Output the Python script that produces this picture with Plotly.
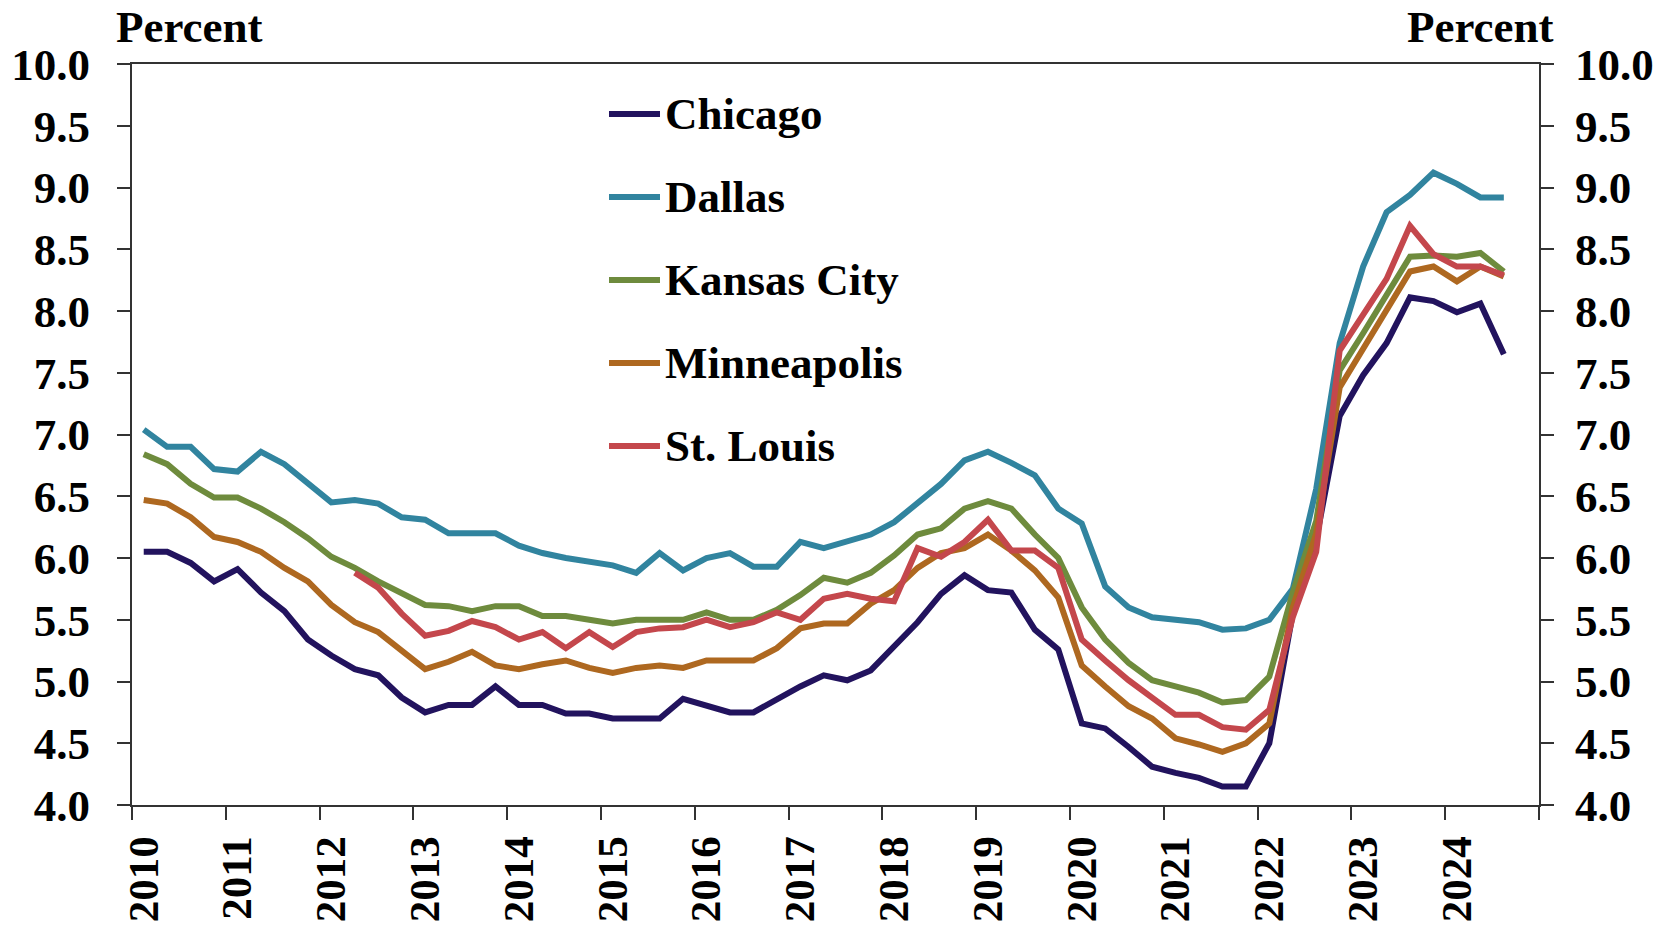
import plotly.graph_objects as go

# Quarterly series, 2010 Q1 through 2024 Q3 (59 quarters), percent
years = [str(y) for y in range(2010, 2025)]

chicago = [
    6.05, 6.05, 5.96, 5.81, 5.91, 5.72, 5.57, 5.34, 5.21, 5.10, 5.05, 4.87,
    4.75, 4.81, 4.81, 4.96, 4.81, 4.81, 4.74, 4.74, 4.70, 4.70, 4.70, 4.86,
    4.81, 4.75, 4.75, 4.86, 4.96, 5.05, 5.01, 5.09, 5.28, 5.48, 5.71, 5.86,
    5.74, 5.72, 5.42, 5.26, 4.66, 4.62, 4.47, 4.31, 4.26, 4.22, 4.15, 4.15,
    4.50, 5.55, 6.15, 7.15, 7.48, 7.74, 8.11, 8.08, 7.99, 8.06, 7.65,
]
dallas = [
    7.04, 6.90, 6.90, 6.72, 6.70, 6.86, 6.76, 6.60, 6.45, 6.47, 6.44, 6.33,
    6.31, 6.20, 6.20, 6.20, 6.10, 6.04, 6.00, 5.97, 5.94, 5.88, 6.04, 5.90,
    6.00, 6.04, 5.93, 5.93, 6.13, 6.08, 6.13, 6.19, 6.29, 6.44, 6.60, 6.79,
    6.86, 6.77, 6.67, 6.40, 6.28, 5.77, 5.60, 5.52, 5.50, 5.48, 5.42, 5.43,
    5.50, 5.75, 6.56, 7.74, 8.36, 8.80, 8.94, 9.12, 9.03, 8.92, 8.92,
]
kansas_city = [
    6.84, 6.76, 6.60, 6.49, 6.49, 6.40, 6.29, 6.16, 6.01, 5.92, 5.81, 5.72,
    5.62, 5.61, 5.57, 5.61, 5.61, 5.53, 5.53, 5.50, 5.47, 5.50, 5.50, 5.50,
    5.56, 5.50, 5.50, 5.58, 5.70, 5.84, 5.80, 5.88, 6.02, 6.19, 6.24, 6.40,
    6.46, 6.40, 6.19, 6.00, 5.60, 5.34, 5.15, 5.01, 4.96, 4.91, 4.83, 4.85,
    5.04, 5.72, 6.30, 7.52, 7.82, 8.13, 8.44, 8.45, 8.44, 8.47, 8.32,
]
minneapolis = [
    6.47, 6.44, 6.33, 6.17, 6.13, 6.05, 5.92, 5.81, 5.62, 5.48, 5.40, 5.25,
    5.10, 5.16, 5.24, 5.13, 5.10, 5.14, 5.17, 5.11, 5.07, 5.11, 5.13, 5.11,
    5.17, 5.17, 5.17, 5.27, 5.43, 5.47, 5.47, 5.63, 5.74, 5.92, 6.04, 6.08,
    6.19, 6.06, 5.90, 5.68, 5.13, 4.96, 4.80, 4.70, 4.54, 4.49, 4.43, 4.50,
    4.66, 5.60, 6.20, 7.38, 7.70, 8.00, 8.32, 8.36, 8.24, 8.36, 8.28,
]
st_louis = [
    None, None, None, None, None, None, None, None, None, 5.88, 5.76, 5.55,
    5.37, 5.41, 5.49, 5.44, 5.34, 5.40, 5.27, 5.40, 5.28, 5.40, 5.43, 5.44,
    5.50, 5.44, 5.48, 5.56, 5.50, 5.67, 5.71, 5.67, 5.65, 6.08, 6.01, 6.13,
    6.31, 6.06, 6.06, 5.92, 5.34, 5.17, 5.01, 4.87, 4.73, 4.73, 4.63, 4.61,
    4.77, 5.52, 6.05, 7.68, 7.98, 8.26, 8.69, 8.46, 8.36, 8.36, 8.29,
]

series_names = ["Chicago", "Dallas", "Kansas City", "Minneapolis", "St. Louis"]
series_values = [chicago, dallas, kansas_city, minneapolis, st_louis]
series_colors = ["#22135E", "#31849F", "#6E8B3D", "#AE6820", "#C4474C"]
# the last series is drawn against the right-hand scale so both scales show
series_yaxis = ["y", "y", "y", "y", "y2"]

# Each quarter occupies one unit on the x axis; points sit at the centre.
n_cat = 4 * len(years)
xq = [i + 0.5 for i in range(len(chicago))]

W, H = 1668, 927
L, R, T, B = 132, 129, 64, 122
pw, ph = W - L - R, H - T - B

FONT = "Liberation Serif, Times New Roman, serif"
AX = "#333333"
LW = 6


def px_x(x):
    return (x - L) / pw


def px_y(y):
    return 1 - (y - T) / ph


fig = go.Figure()
for name, vals, col, ya in zip(series_names, series_values, series_colors, series_yaxis):
    fig.add_trace(go.Scatter(
        x=xq, y=vals, mode="lines", name=name, yaxis=ya,
        line=dict(color=col, width=LW),
        connectgaps=False, showlegend=False,
    ))

tickfont = dict(family=FONT, size=45, color="black", weight="bold")
xtickfont = dict(family=FONT, size=43, color="black", weight="bold")

yaxis_common = dict(
    range=[4, 10], dtick=0.5, tick0=4, tickformat=".1f",
    ticks="outside", ticklen=13, tickwidth=2, tickcolor=AX,
    showline=True, linecolor=AX, linewidth=2,
    showgrid=False, zeroline=False, tickfont=tickfont, automargin=False,
)

fig.update_layout(
    width=W, height=H,
    margin=dict(l=L, r=R, t=T, b=B, pad=0, autoexpand=False),
    paper_bgcolor="white", plot_bgcolor="white",
    showlegend=False,
    xaxis=dict(
        range=[0, n_cat],
        # year labels sit under the first quarter of each year
        tickvals=[4 * k + 0.5 for k in range(len(years))],
        ticktext=years, tickangle=-90, ticks="",
        ticklabelstandoff=12, tickfont=xtickfont,
        # tick marks fall on the year boundaries
        minor=dict(tickvals=list(range(0, n_cat + 1, 4)), ticks="outside",
                   ticklen=13, tickwidth=2, tickcolor=AX, showgrid=False),
        showline=True, linecolor=AX, linewidth=2, mirror=True,
        showgrid=False, zeroline=False, automargin=False,
    ),
    yaxis=dict(**yaxis_common, ticklabelstandoff=18),
    yaxis2=dict(**yaxis_common, overlaying="y", side="right", anchor="x",
                ticklabelstandoff=12),
)

# Axis unit captions
fig.add_annotation(text="Percent", xref="paper", yref="paper",
                   x=px_x(114), y=px_y(27), xanchor="left", yanchor="middle",
                   showarrow=False, font=tickfont)
fig.add_annotation(text="Percent", xref="paper", yref="paper",
                   x=px_x(1556), y=px_y(27), xanchor="right", yanchor="middle",
                   showarrow=False, font=tickfont)

# Key: short coloured strokes with the series names beside them
row_y = [114, 197, 280, 363, 446]
for name, col, yy in zip(series_names, series_colors, row_y):
    fig.add_shape(type="line", xref="paper", yref="paper",
                  x0=px_x(609), x1=px_x(660), y0=px_y(yy), y1=px_y(yy),
                  line=dict(color=col, width=LW))
    fig.add_annotation(text=name, xref="paper", yref="paper",
                       x=px_x(663), y=px_y(yy), xanchor="left", yanchor="middle",
                       showarrow=False, font=tickfont)

fig.write_html("out.html", config={"displayModeBar": False})
